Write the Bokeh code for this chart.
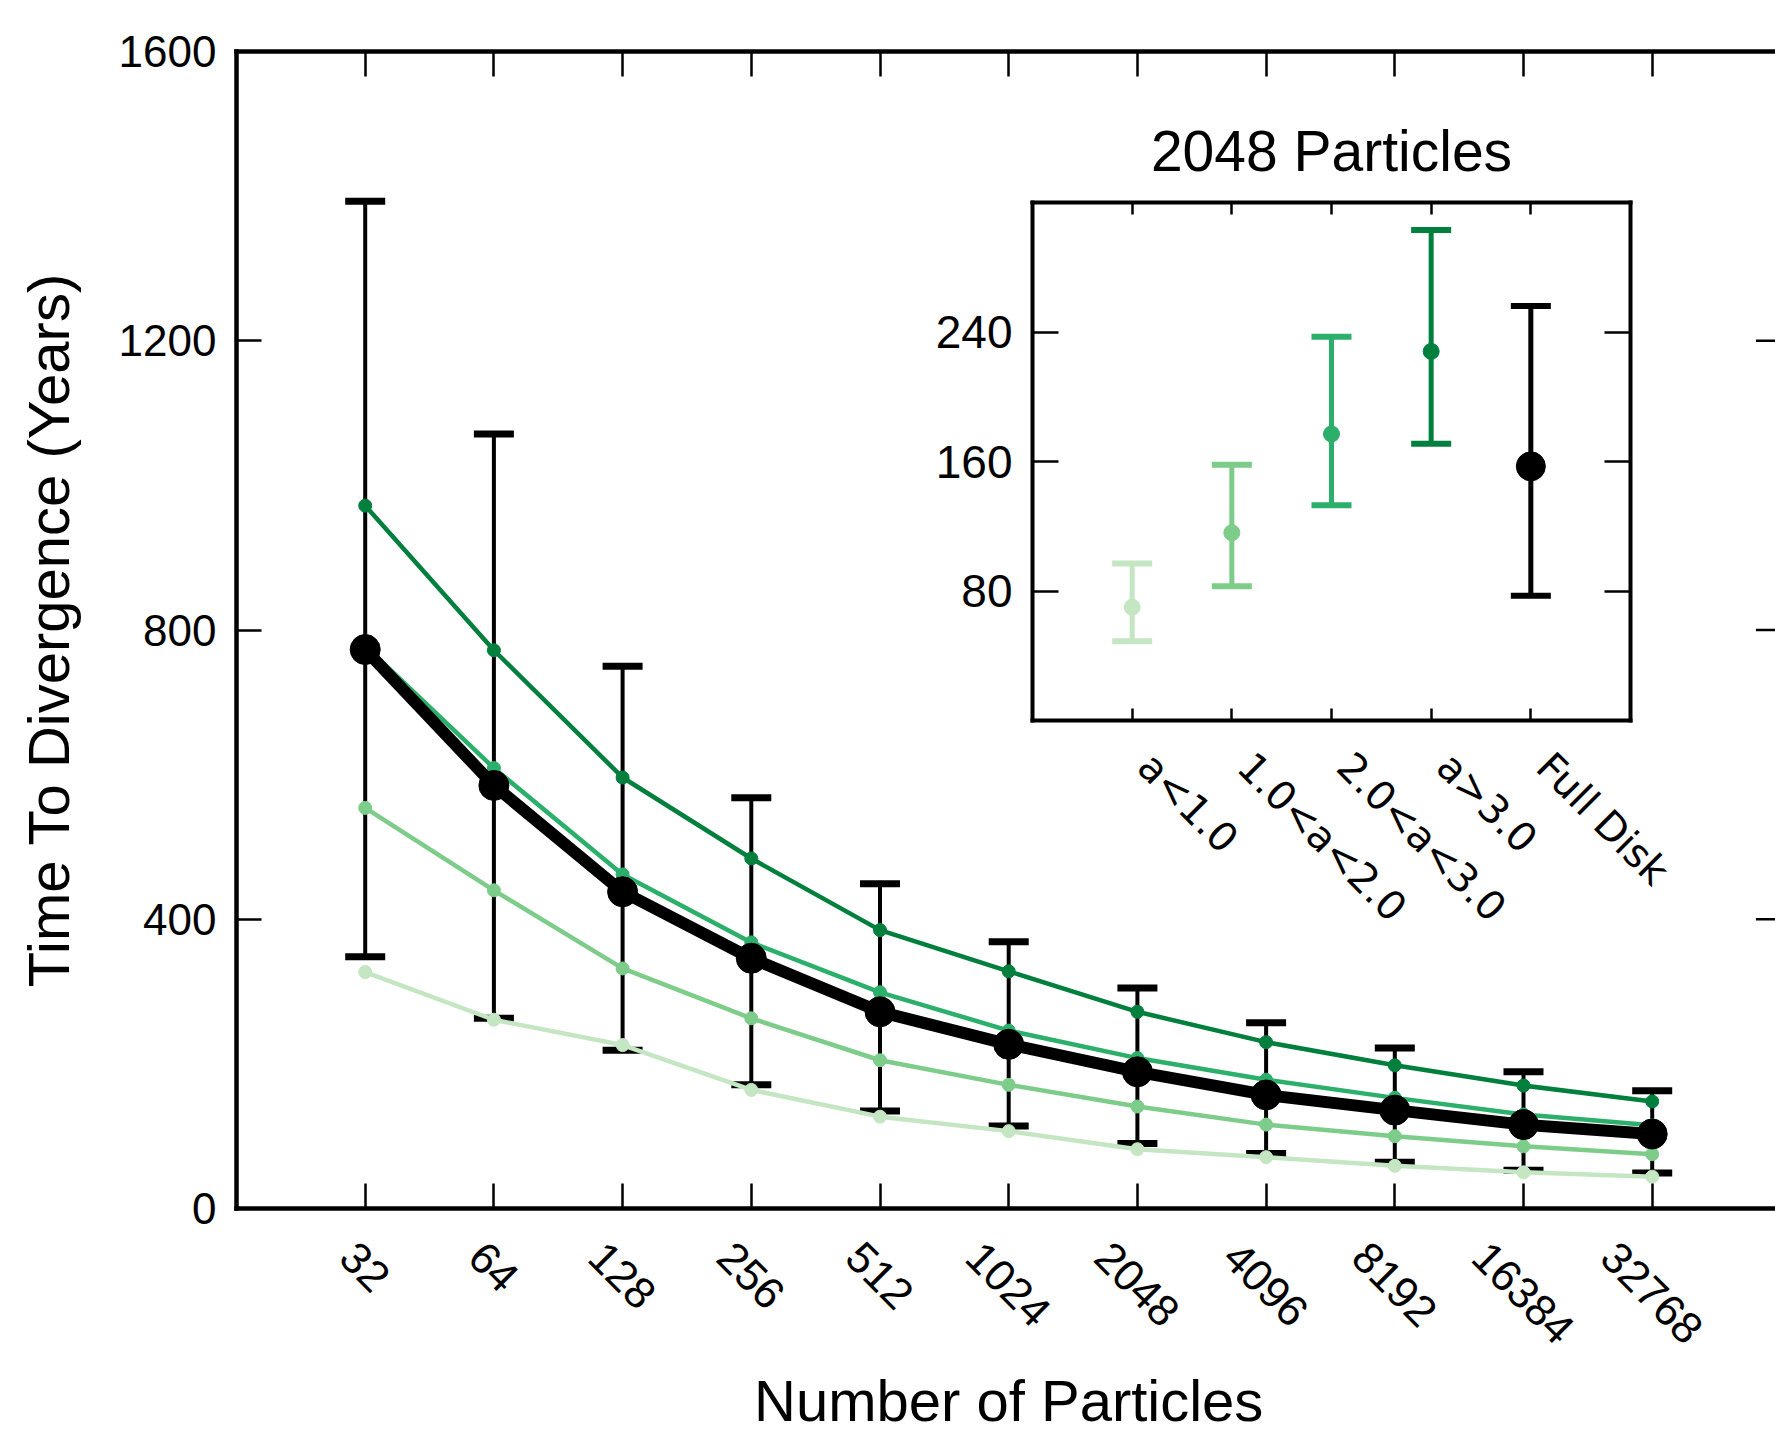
import math
from bokeh.plotting import figure
from bokeh.models import (Range1d, FixedTicker, LinearAxis, ColumnDataSource,
                          Whisker, TeeHead)
from bokeh.embed import file_html
from bokeh.resources import INLINE
from bokeh.core.properties import value

# ---------------- data ----------------
particles = [32, 64, 128, 256, 512, 1024, 2048, 4096, 8192, 16384, 32768]
full_disk = [773, 585, 438, 346, 272, 227, 189, 157, 136, 116, 103]
full_disk_lo = [348, 263, 219, 171, 135, 114, 90, 76, 64, 53, 49]
full_disk_hi = [1393, 1071, 750, 568, 449, 369, 305, 257, 222, 189, 163]
a_lt_1 = [327, 261, 226, 164, 127, 107, 82, 71, 59, 50, 44]
a_1_2 = [554, 440, 332, 263, 205, 171, 141, 116, 100, 86, 75]
a_2_3 = [778, 609, 462, 368, 299, 246, 208, 178, 153, 130, 115]
a_gt_3 = [972, 772, 596, 484, 385, 328, 272, 230, 198, 170, 148]
y_ticks = [0, 400, 800, 1200, 1600]

inset_categories = ["a<1.0", "1.0<a<2.0", "2.0<a<3.0", "a>3.0", "Full Disk"]
inset_mean = [70, 116, 177, 228, 157]
inset_lo = [49, 83, 133, 171, 77]
inset_hi = [97, 158, 237, 303, 256]
inset_y_ticks = [80, 160, 240]

# ---------------- styles ----------------
greens = ["#c4e6c3", "#7dcc8a", "#2baf6b", "#007f3d"]
inset_colors = greens + ["black"]
inset_marker_sizes = [16, 16, 16, 16, 29]
FONT = "Liberation Sans"
TICK_FS = 44
LINE_W = 4.5

# ---------------- geometry (page pixels) ----------------
PAGE_W, PAGE_H = 1775, 1432
FR_LEFT, FR_TOP, FR_H = 236, 51, 1157
FR_W = PAGE_W - FR_LEFT
X0, X_REF_END = 4.0, 16.0          # original x limits (log2 N)
PX_X = 128.7                       # px per log2 unit
x_end = X0 + FR_W / PX_X

x = [math.log2(n) for n in particles]


def style_axis(ax, ticks, tin, labels=True, fs=TICK_FS, font=FONT, lw=LINE_W):
    ax.ticker = FixedTicker(ticks=ticks)
    ax.major_tick_in = tin
    ax.major_tick_out = 0
    ax.minor_tick_line_color = None
    ax.axis_line_width = lw
    ax.axis_line_cap = "square"
    ax.axis_line_color = "black"
    ax.major_tick_line_width = 2.5
    ax.major_tick_line_color = "black"
    ax.major_label_text_font = font
    if labels:
        ax.major_label_text_font_size = f"{fs}px"
        ax.major_label_text_color = "black"
    else:
        ax.major_label_text_color = None
        ax.major_label_text_font_size = "0px"
        ax.major_label_standoff = 0


def overlay(left, top, width, height, x_range, y_range):
    f = figure(width=width, height=height, x_range=x_range, y_range=y_range,
               output_backend="svg", toolbar_location=None, min_border=0,
               x_axis_location=None, y_axis_location=None,
               styles={"position": "absolute", "left": f"{left}px", "top": f"{top}px"})
    f.outline_line_color = None
    f.background_fill_alpha = 0
    f.border_fill_alpha = 0
    f.grid.visible = False
    return f


# ---------------- main figure ----------------
main_x_range = Range1d(X0, x_end)
p = figure(width=PAGE_W, height=PAGE_H, x_range=main_x_range, y_range=Range1d(0, 1600),
           output_backend="svg", toolbar_location=None,
           min_border_left=FR_LEFT, min_border_right=0, min_border_top=FR_TOP,
           min_border_bottom=PAGE_H - FR_TOP - FR_H)
p.outline_line_color = None
p.grid.visible = False

ya = p.yaxis[0]
style_axis(ya, y_ticks, 25)
ya.major_label_standoff = 20
ya.axis_label = "Time To Divergence (Years)"
ya.axis_label_text_font = FONT
ya.axis_label_text_font_size = "58px"
ya.axis_label_text_font_style = "normal"
ya.axis_label_text_color = "black"
ya.axis_label_standoff = 35

style_axis(p.xaxis[0], x, 25, labels=False)
top_ax = LinearAxis()
style_axis(top_ax, x, 25, labels=False)
p.add_layout(top_ax, "above")

# inward ticks of the right spine (which lies just outside the window)
tick_len = 25 / PX_X
p.segment(x0=[X_REF_END - tick_len] * len(y_ticks), y0=y_ticks,
          x1=[X_REF_END] * len(y_ticks), y1=y_ticks, line_width=2.5, line_color="black")

src_fd = ColumnDataSource(dict(x=x, y=full_disk, lo=full_disk_lo, hi=full_disk_hi))
p.add_layout(Whisker(source=src_fd, base="x", upper="hi", lower="lo", dimension="height",
                     line_width=4, line_color="black",
                     upper_head=TeeHead(size=40, line_width=7, line_color="black"),
                     lower_head=TeeHead(size=40, line_width=7, line_color="black")))

for vals, col in zip([a_lt_1, a_1_2, a_2_3, a_gt_3], greens):
    p.line(x, vals, line_width=4.5, line_color=col, line_join="round")
    p.scatter(x, vals, size=13, fill_color=col, line_color=col)

p.line(x, full_disk, line_width=12, line_color="black", line_join="round")
p.scatter(x, full_disk, size=30, fill_color="black", line_color="black")

# ---------------- x tick labels + x title (below the main frame) ----------------
OA_H = PAGE_H - (FR_TOP + FR_H)
oa = overlay(FR_LEFT, FR_TOP + FR_H, FR_W, OA_H, main_x_range, Range1d(-OA_H, 0))
lab_text = [str(n) for n in particles]
lab_y = [-(31 + (len(s) * 0.556 * TICK_FS - 4 + 0.72 * TICK_FS) * math.sqrt(2) / 4)
         for s in lab_text]
oa.text(x=x, y=lab_y, text=lab_text, angle=-math.pi / 4,
        text_align="center", text_baseline="middle",
        text_font=value(FONT), text_font_size=value(f"{TICK_FS}px"), text_color="black")
oa.text(x=[(X0 + X_REF_END) / 2], y=[-159], text=["Number of Particles"],
        text_align="center", text_baseline="top",
        text_font=value(FONT), text_font_size=value("58px"), text_color="black")

# ---------------- inset ----------------
IN_LEFT, IN_TOP, IFW, IFH = 1032, 202, 598, 518
IL, IR, IT, IB = 150, 30, 130, 20
inset_x_range = Range1d(-1, len(inset_categories))
ins = figure(width=IL + IFW + IR, height=IT + IFH + IB,
             x_range=inset_x_range, y_range=Range1d(0, 320),
             output_backend="svg", toolbar_location=None, title="2048 Particles",
             min_border_left=IL, min_border_right=IR, min_border_top=IT, min_border_bottom=IB,
             styles={"position": "absolute", "left": f"{IN_LEFT - IL}px", "top": f"{IN_TOP - IT}px"})
ins.background_fill_alpha = 0
ins.border_fill_alpha = 0
ins.outline_line_color = None
ins.grid.visible = False
ins.title.text_font = FONT
ins.title.text_font_size = "57px"
ins.title.text_font_style = "normal"
ins.title.align = "center"
ins.title.text_color = "black"
ins.title.standoff = 40

cat_x = list(range(len(inset_categories)))
iy = ins.yaxis[0]
style_axis(iy, inset_y_ticks, 26, fs=46, lw=4)
iy.major_label_standoff = 20
style_axis(ins.xaxis[0], cat_x, 12, labels=False, lw=4)
itop = LinearAxis()
style_axis(itop, cat_x, 12, labels=False, lw=4)
ins.add_layout(itop, "above")
iright = LinearAxis()
style_axis(iright, inset_y_ticks, 26, labels=False, lw=4)
ins.add_layout(iright, "right")

for i in cat_x:
    s = ColumnDataSource(dict(x=[i], lo=[inset_lo[i]], hi=[inset_hi[i]]))
    c = inset_colors[i]
    ins.add_layout(Whisker(source=s, base="x", upper="hi", lower="lo", dimension="height",
                           line_width=5, line_color=c,
                           upper_head=TeeHead(size=40, line_width=6, line_color=c),
                           lower_head=TeeHead(size=40, line_width=6, line_color=c)))
isrc = ColumnDataSource(dict(x=cat_x, y=inset_mean, color=inset_colors, size=inset_marker_sizes))
ins.scatter("x", "y", size="size", fill_color="color", line_color="color", source=isrc)

# inset category labels (rotated, starting at their ticks)
OB_W, OB_H = 740, 260
ipx = IFW / (inset_x_range.end - inset_x_range.start)
ob = overlay(IN_LEFT, IN_TOP + IFH, OB_W, OB_H,
             Range1d(inset_x_range.start, inset_x_range.start + OB_W / ipx), Range1d(-OB_H, 0))
ob.text(x=cat_x, y=[-39] * len(cat_x), text=inset_categories, angle=-math.pi / 4,
        x_offset=13, text_align="left", text_baseline="alphabetic",
        text_font=value("DejaVu Sans"), text_font_size=value("40px"), text_color="black")

open("out.html", "w").write(file_html([p, ins, oa, ob], INLINE))
